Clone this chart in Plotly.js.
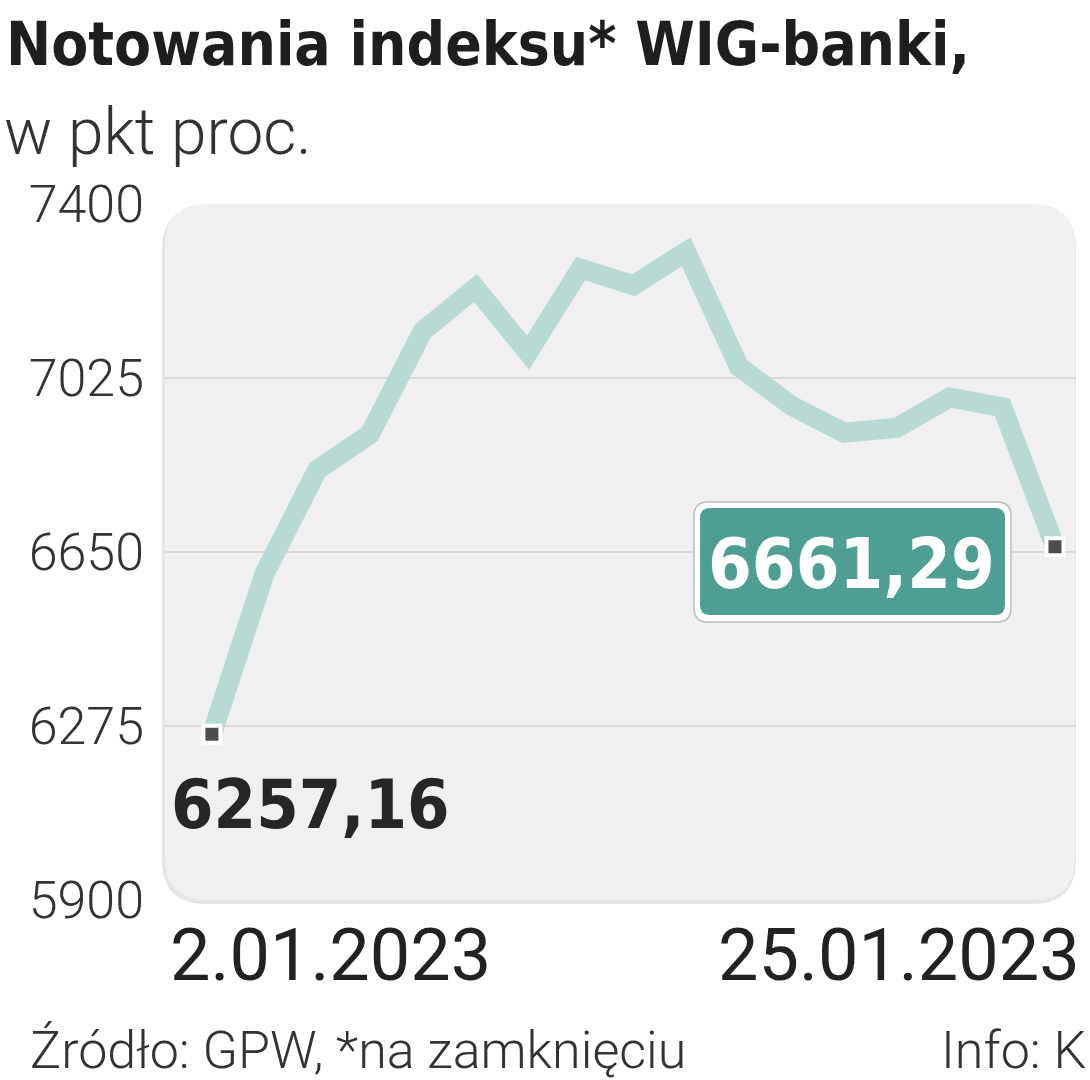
<!DOCTYPE html>
<html>
<head>
<meta charset="utf-8">
<script src="https://cdn.plot.ly/plotly-3.0.1.min.js"></script>
<style>
html,body{margin:0;padding:0;background:#fff;}
#chart{width:1090px;height:1080px;}
</style>
</head>
<body>
<div id="chart"></div>
<script>
// ---- data ----
const dates = ['2.01.2023','3.01.2023','4.01.2023','5.01.2023','9.01.2023','10.01.2023','11.01.2023','12.01.2023','13.01.2023','16.01.2023','17.01.2023','18.01.2023','19.01.2023','20.01.2023','23.01.2023','24.01.2023','25.01.2023'];
const values = [6257.16, 6604, 6827, 6904, 7126, 7219, 7080, 7261, 7225, 7297, 7050, 6965, 6907, 6918, 6983, 6962, 6661.29];
const yTicks = [5900, 6275, 6650, 7025, 7400];
const gridValues = [6275, 6650, 7025];
const xLabels = [dates[0], dates[dates.length - 1]];
const titleText = 'Notowania indeksu* WIG-banki,';
const subtitleText = 'w pkt proc.';
const sourceText = 'Źródło: GPW, *na zamknięciu';
const infoText = 'Info: K';

// ---- layout geometry (pixels) ----
const W = 1090, H = 1080;
const L = 165, R = 1075, T = 204, B = 900;
const pw = R - L, ph = B - T;
const px = x => (x - L) / pw;
const py = y => (B - y) / ph;
function roundRect(x0, y0, x1, y1, r) {
  const rx = r / pw, ry = r / ph;
  const a = px(x0), b = px(x1), c = py(y1), d = py(y0);
  return `M ${a + rx} ${d} L ${b - rx} ${d} Q ${b} ${d} ${b} ${d - ry} L ${b} ${c + ry} Q ${b} ${c} ${b - rx} ${c} L ${a + rx} ${c} Q ${a} ${c} ${a} ${c + ry} L ${a} ${d - ry} Q ${a} ${d} ${a + rx} ${d} Z`;
}
const fmt = v => v.toFixed(2).replace('.', ',');
const n = values.length;
const narrow = '"Liberation Sans Narrow", "DejaVu Sans Condensed", "Roboto", sans-serif';
const light = 'Roboto, "Open Sans", sans-serif';

const traces = [
  {
    x: dates, y: values, type: 'scatter', mode: 'lines',
    line: {color: '#b7dad5', width: 20, shape: 'linear'},
    hoverinfo: 'skip'
  },
  {
    x: [dates[0], dates[n - 1]], y: [values[0], values[n - 1]],
    type: 'scatter', mode: 'markers',
    marker: {symbol: 'square', size: 17, color: '#4d4d4d', line: {color: '#ffffff', width: 4}},
    hoverinfo: 'skip'
  }
];

const shapes = [
  {type: 'path', xref: 'paper', yref: 'paper', path: roundRect(L - 3, T + 2, R + 1, B + 4, 44),
   fillcolor: '#e4e6e6', line: {width: 0}, layer: 'below'},
  {type: 'path', xref: 'paper', yref: 'paper', path: roundRect(L, T, R, B, 42),
   fillcolor: '#f0f0f0', line: {width: 0}, layer: 'below'}
];
gridValues.forEach(g => shapes.push({
  type: 'line', xref: 'paper', yref: 'y', x0: 0, x1: 1, y0: g, y1: g,
  line: {color: '#d9d1cd', width: 1.5}, layer: 'below'
}));
shapes.push({type: 'path', xref: 'paper', yref: 'paper', path: roundRect(694, 502, 1011, 622, 14),
  fillcolor: '#ffffff', line: {color: '#b9b9b9', width: 1.5}, layer: 'above'});
shapes.push({type: 'path', xref: 'paper', yref: 'paper', path: roundRect(700, 508, 1005, 615, 10),
  fillcolor: '#4f9e93', line: {width: 0}, layer: 'above'});

const annotations = [
  {text: '<b>' + titleText + '</b>', xref: 'paper', yref: 'paper', x: px(4), y: py(44), xanchor: 'left', yanchor: 'middle',
   showarrow: false, font: {family: narrow, size: 60, color: '#1e1e1e'}},
  {text: subtitleText, xref: 'paper', yref: 'paper', x: px(2), y: py(132), xanchor: 'left', yanchor: 'middle',
   showarrow: false, font: {family: light, size: 64, color: '#333333', weight: 300}},
  {text: xLabels[0], xref: 'paper', yref: 'paper', x: px(168), y: py(955), xanchor: 'left', yanchor: 'middle',
   showarrow: false, font: {family: light, size: 72, color: '#222222', weight: 400}},
  {text: xLabels[1], xref: 'paper', yref: 'paper', x: px(1082), y: py(955), xanchor: 'right', yanchor: 'middle',
   showarrow: false, font: {family: light, size: 72, color: '#222222', weight: 400}},
  {text: sourceText, xref: 'paper', yref: 'paper', x: px(28), y: py(1050), xanchor: 'left', yanchor: 'middle',
   showarrow: false, font: {family: light, size: 52, color: '#333333', weight: 300}},
  {text: infoText, xref: 'paper', yref: 'paper', x: px(1088), y: py(1050), xanchor: 'right', yanchor: 'middle',
   showarrow: false, font: {family: light, size: 52, color: '#333333', weight: 300}},
  {text: fmt(values[0]), x: dates[0], y: values[0], xref: 'x', yref: 'y', xanchor: 'left', yanchor: 'middle',
   xshift: -43, yshift: -70, showarrow: false,
   font: {family: narrow, size: 68, color: '#262626', weight: 700}},
  {text: fmt(values[n - 1]), x: dates[n - 1], y: values[n - 1], xref: 'x', yref: 'y', xanchor: 'center', yanchor: 'middle',
   xshift: -203, yshift: -17, showarrow: false,
   font: {family: narrow, size: 70, color: '#ffffff', weight: 700}}
];

const layout = {
  width: W, height: H,
  margin: {l: L, r: W - R, t: T, b: H - B, pad: 0},
  paper_bgcolor: '#ffffff', plot_bgcolor: 'rgba(0,0,0,0)',
  showlegend: false,
  xaxis: {type: 'category', range: [-0.89, 16.38], showgrid: false, zeroline: false, showline: false,
    showticklabels: false, ticks: '', fixedrange: true},
  yaxis: {range: [5900, 7400], tickvals: yTicks, ticktext: yTicks.map(String), showgrid: false, zeroline: false,
    showline: false, ticks: '', ticklabelstandoff: 20,
    tickfont: {family: light, size: 52, color: '#333333', weight: 300}, fixedrange: true},
  shapes: shapes,
  annotations: annotations
};

Plotly.newPlot('chart', traces, layout, {displayModeBar: false, staticPlot: true});
</script>
</body>
</html>
